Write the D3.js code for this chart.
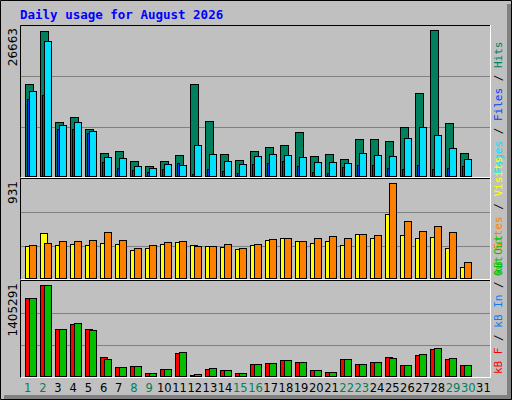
<!DOCTYPE html>
<html><head><meta charset="utf-8">
<script src="https://cdn.jsdelivr.net/npm/d3@7"></script>
<style>body{margin:0;background:#fff}</style>
</head><body>
<script>
const width = 512, height = 400;
const days = d3.range(1, 32);
const weekend = [1, 2, 8, 9, 15, 16, 22, 23, 29, 30];

// panel 1 (hits / wide cyan / thin blue)
const hits = [16890,26480,9830,10740,8570,4220,4580,2780,1870,2780,3860,16890,10010,4040,2950,4580,5310,5670,8020,3680,4040,3140,6760,6760,6390,8930,15080,26663,9650,4220,0];
const files = [15500,24660,9290,9830,8200,3500,3320,1870,1510,2230,2050,5670,4040,2770,2230,3680,4040,3860,3500,2590,2590,2410,4220,3860,3680,6930,8920,7480,5130,3140,0];
const pages = [14050,14770,8560,8560,7840,2590,1510,1150,780,1330,2410,420,1330,960,600,2230,2410,2770,1870,780,600,1690,2050,2050,1510,1330,2050,1330,1510,1870,0];
// panel 2
const visits = [314,445,324,334,324,344,334,273,293,334,354,324,314,304,283,324,374,395,364,344,364,324,435,395,627,425,395,405,293,111,0];
const sites = [324,344,364,364,374,455,374,293,324,354,364,314,314,334,293,334,385,395,364,395,415,395,435,425,931,557,465,506,455,152,0];
// panel 3
const kbF = [1200200,1405291,723200,800100,723200,292400,138500,153900,46200,107700,353900,15400,107700,92300,46200,184600,200000,246200,215400,92300,61500,261600,184600,215400,292400,169300,323100,415400,261600,169300,0];
const kbOut = [1200200,1405291,723200,815500,707800,261600,138500,153900,46200,107700,369300,30800,123100,92300,46200,184600,200000,246200,215400,92300,61500,261600,184600,215400,277000,169300,338500,430800,277000,169300,0];
const kbIn = kbF.map(() => 0);

const svg = d3.select("body").append("svg").attr("width", width).attr("height", height)
  .style("font-family", "'DejaVu Sans Mono', monospace");

svg.append("rect").attr("width", width).attr("height", height).attr("fill", "#c0c0c0");
svg.append("path").attr("d", "M0.5,399.5V0.5H511.5").attr("stroke", "#fff").attr("fill", "none");
svg.append("rect").attr("x", 507).attr("y", 4).attr("width", 5).attr("height", 396).attr("fill", "#808080");
svg.append("rect").attr("x", 4).attr("y", 395).attr("width", 508).attr("height", 5).attr("fill", "#808080");
svg.append("path").attr("d", "M0.5,0.5H511.5V399.5H0.5Z").attr("stroke", "#000").attr("fill", "none");

svg.append("text").attr("x", 20).attr("y", 19).attr("fill", "#0000ff").attr("font-weight", "bold")
  .attr("font-size", 12.5).text("Daily usage for August 2026");

const x = d3.scaleBand().domain(days).range([20, 491]).paddingInner(0).paddingOuter(0);
const x0 = d => 25 + (d - 1) * 15;

const panels = [
  {top: 25, bottom: 178, max: 26663, series: [[hits, "#00805c", 0, 8], [files, "#00e0ff", 4, 7], [pages, "#0040ff", 2, 2]],
   legend: [["Pages", "#00e0ff"], [" / ", "#000"], ["Files", "#0040ff"], [" / ", "#000"], ["Hits", "#00805c"]]},
  {top: 178, bottom: 280, max: 931, series: [[visits, "#ffff00", 0, 7], [sites, "#ff8000", 4, 7]],
   legend: [["kB Out", "#00c000"], [" ", "#000"], ["Sites", "#ff8000"], [" / ", "#000"], ["Visits", "#ffff00"]]},
  {top: 280, bottom: 378, max: 1405291, series: [[kbF, "#ff0000", 0, 7], [kbIn, "#0080ff", 2, 2], [kbOut, "#00c000", 4, 7]],
   legend: [["kB F", "#ff0000"], [" / ", "#000"], ["kB In", "#0080ff"], [" / ", "#000"], ["kB Out", "#00c000"]]}
];

panels.forEach((p, i) => {
  const base = p.bottom - 2;
  const y = d3.scaleLinear().domain([0, p.max]).range([base, p.top + 5]);
  const g = svg.append("g");
  const h = p.bottom - p.top;
  [1, 2].forEach(k => g.append("line").attr("x1", 21).attr("x2", 490)
    .attr("y1", Math.round(p.bottom - h * k / 3) + 0.5).attr("y2", Math.round(p.bottom - h * k / 3) + 0.5)
    .attr("stroke", "#808080"));
  g.append("path").attr("d", `M20.5,${p.bottom}V${p.top + 0.5}H491`).attr("stroke", "#000").attr("fill", "none");
  g.append("path").attr("d", `M20.5,${p.bottom - 0.5}H490.5V${p.top}`).attr("stroke", "#fff").attr("fill", "none");
  p.series.forEach(([vals, col, off, w]) => {
    g.selectAll(null).data(days.filter((d, j) => vals[j] > 0)).join("rect")
      .attr("x", d => x0(d) + off + 0.5).attr("y", d => Math.round(y(vals[d - 1])) + 0.5)
      .attr("width", w).attr("height", d => Math.max(1, base - Math.round(y(vals[d - 1]))))
      .attr("fill", col).attr("stroke", "#000");
  });
  svg.append("text").attr("transform", `translate(17,${p.top + 3}) rotate(-90)`).attr("text-anchor", "end")
    .attr("font-size", 12).attr("font-family", "'DejaVu Sans', sans-serif").text(p.max);
  if (i < 2 || true) {
    const t = svg.append("text").attr("transform", `translate(502,${p.bottom - 4}) rotate(-90)`)
      .attr("font-size", 11).attr("textLength", i === 1 ? 0 : null);
    const leg = i === 1 ? p.legend.slice(2) : p.legend;
    leg.forEach(([s, c]) => t.append("tspan").attr("fill", c).text(s));
    if (i === 1) t.attr("textLength", null).insert("tspan", ":first-child").attr("fill", "#00c000").text("Out ");
  }
});

svg.selectAll(".day").data(days).join("text").attr("class", "day")
  .attr("x", d => x(d) + x.bandwidth() / 2).attr("y", 392).attr("text-anchor", "middle")
  .attr("font-size", 11.5).attr("font-family", "'DejaVu Sans', sans-serif")
  .attr("fill", d => weekend.includes(d) ? "#00805c" : "#000").text(d => d);
</script>
</body></html>
